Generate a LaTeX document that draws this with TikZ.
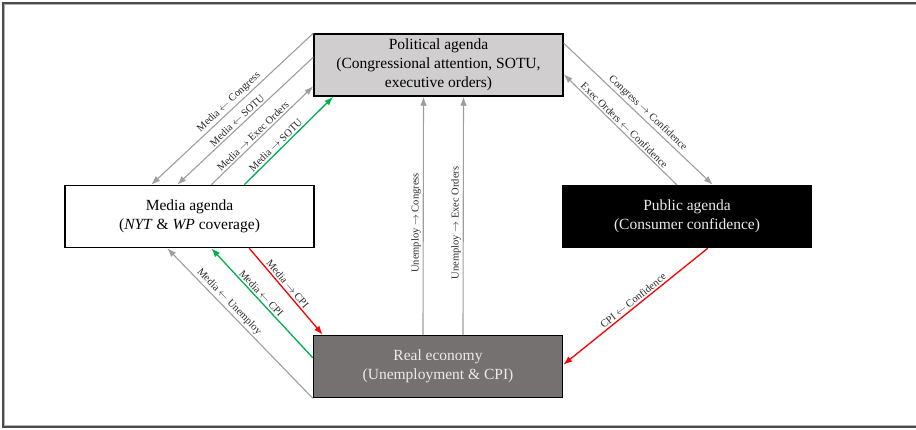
\documentclass[tikz,border=0pt]{standalone}
\usepackage{fontspec}
\setmainfont{Liberation Serif}
\usetikzlibrary{arrows.meta}
\definecolor{arrgray}{RGB}{158,158,158}
\definecolor{polfill}{RGB}{208,206,206}
\definecolor{realfill}{RGB}{118,113,113}
\definecolor{agreen}{RGB}{0,176,80}
\definecolor{ared}{RGB}{255,0,0}
\definecolor{labtext}{RGB}{40,40,40}
\definecolor{lighttext}{RGB}{235,235,235}
\begin{document}
\begin{tikzpicture}[x=1pt,y=-1pt,
  box/.style={draw=black,line width=1.5pt,minimum width=249pt,minimum height=62pt,inner sep=0pt,align=center,font=\fontsize{15.5}{19}\selectfont},
  conn/.style={line width=1.1pt,draw=arrgray,-{Latex[length=9pt,width=6.5pt]}},
  gconn/.style={conn,draw=agreen,line width=1.3pt},
  rconn/.style={conn,draw=ared,line width=1.3pt},
  lab/.style={sloped,above=0.8pt,inner sep=1pt,font=\fontsize{10.5}{12}\selectfont,text=labtext},
]
\useasboundingbox (0,0) rectangle (916,430);
\draw[line width=1.3pt,draw=black!70] (3,3) rectangle (930,427);
\draw[line width=0.6pt,draw=black!30] (4.5,4.5) rectangle (930,425.5);

\node[box,fill=polfill] (pol) at (438.5,65) {Political agenda\\(Congressional attention, SOTU,\\executive orders)};
\node[box,fill=white] (media) at (189.5,216.5) {Media agenda\\(\textit{NYT} \& \textit{WP} coverage)};
\node[box,fill=black,text=lighttext] (pub) at (687,216.5) {Public agenda\\(Consumer confidence)};
\node[box,fill=realfill,text=lighttext] (real) at (438,366.5) {Real economy\\(Unemployment \& CPI)};

% top-left
\draw[conn] (pol.north west) -- node[lab,pos=0.49]{Media $\leftarrow$ Congress} ([xshift=87pt]media.north west);
\draw[conn] ([yshift=-24pt]pol.north west) -- node[lab,pos=0.53]{Media $\leftarrow$ SOTU} ([xshift=113pt]media.north west);
\draw[conn] ([xshift=147pt]media.north west) -- node[lab,pos=0.45]{Media $\rightarrow$ Exec Orders} ([yshift=-53pt]pol.north west);
\draw[gconn] ([xshift=180pt]media.north west) -- node[lab,pos=0.4]{Media $\rightarrow$ SOTU} ([xshift=20pt]pol.south west);

% top-right
\draw[conn] ([yshift=-10pt]pol.north east) -- node[lab,pos=0.53]{Congress $\rightarrow$ Confidence} ([xshift=151pt]pub.north west);
\draw[conn] ([xshift=115pt]pub.north west) -- node[lab,pos=0.5]{Exec Orders $\leftarrow$ Confidence} ([yshift=-41pt]pol.north east);

% bottom-left
\draw[conn] (real.south west) -- node[lab,pos=0.61]{Media $\leftarrow$ Unemploy} ([xshift=103pt]media.south west);
\draw[gconn] ([yshift=-23pt]real.north west) -- node[lab,pos=0.55]{Media $\leftarrow$ CPI} ([xshift=147pt]media.south west);
\draw[rconn] ([xshift=185pt]media.south west) -- node[lab,pos=0.46]{Media $\rightarrow$ CPI} ([xshift=10pt]real.north west);

% bottom-right
\draw[rconn] ([xshift=146pt]pub.south west) -- node[lab,pos=0.49]{CPI $\leftarrow$ Confidence} ([yshift=-30pt]real.north east);

% vertical
\draw[conn] ([xshift=-15pt]real.north) -- node[lab,pos=0.47]{Unemploy $\rightarrow$ Congress} ([xshift=-15pt]pol.south);
\draw[conn] ([xshift=25pt]real.north) -- node[lab,pos=0.47]{Unemploy $\rightarrow$ Exec Orders} ([xshift=25pt]pol.south);
\end{tikzpicture}
\end{document}
